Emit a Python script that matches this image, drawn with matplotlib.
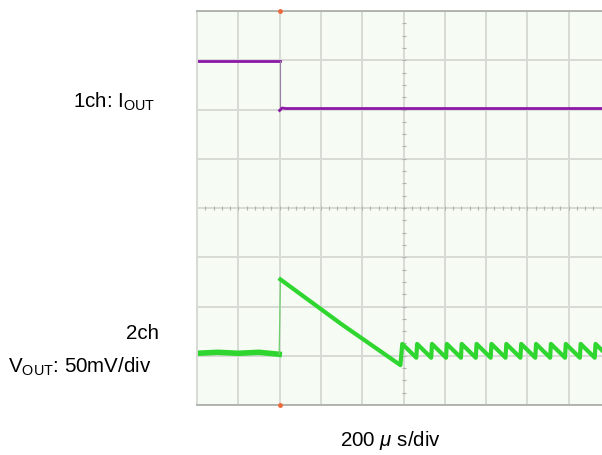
import numpy as np
import matplotlib
matplotlib.use("Agg")
import matplotlib.pyplot as plt

plt.rcParams['font.family'] = ['Liberation Sans', 'DejaVu Sans']
plt.rcParams['mathtext.fontset'] = 'custom'
plt.rcParams['mathtext.rm'] = 'Liberation Sans'
plt.rcParams['mathtext.it'] = 'Liberation Sans:italic'

# time in us, level in divisions
# 1ch: I_OUT
iout_pre_t = [0, 400]
iout_pre_v = [2.98, 2.98]
iout_post_t = [400, 412, 430, 2000]
iout_post_v = [1.98, 2.03, 2.02, 2.02]

# 2ch: V_OUT before the load step
vout_pre_t = [0, 100, 200, 300, 398]
vout_pre_v = [-2.95, -2.93, -2.95, -2.93, -2.97]

# 2ch: V_OUT after the step (ramp down then ripple)
vout_t = [404, 700, 985, 994,
          1062, 1066, 1134, 1138, 1206, 1210, 1278, 1282, 1350, 1354,
          1422, 1426, 1494, 1498, 1566, 1570, 1638, 1642, 1710, 1714,
          1782, 1786, 1854, 1858, 1926, 1930, 1998, 2002]
vout_v = [-1.45, -2.36, -3.19, -2.76,
          -3.04, -2.76, -3.04, -2.76, -3.04, -2.76, -3.04, -2.76, -3.04, -2.76,
          -3.04, -2.76, -3.04, -2.76, -3.04, -2.76, -3.04, -2.76, -3.04, -2.76,
          -3.04, -2.76, -3.04, -2.76, -3.04, -2.76, -3.04, -2.76]

trig_t = 400
x_ticks = list(range(0, 2001, 200))
y_ticks = list(range(-4, 5))

fig = plt.figure(figsize=(6.02, 4.56), dpi=100)
ax = fig.add_axes([197 / 602, 50 / 456, 413 / 602, 394 / 456])
ax.set_facecolor('#f6fbf3')
ax.set_xlim(0, 2000)
ax.set_ylim(-4, 4)
ax.set_xticks(x_ticks)
ax.set_yticks(y_ticks)
ax.grid(True, color='#d8dbd5', lw=1.4)
ax.tick_params(length=0, labelbottom=False, labelleft=False)
for s in ['top', 'bottom']:
    ax.spines[s].set_color('#a8aaa6')
    ax.spines[s].set_linewidth(1.2)
ax.spines['left'].set_color('#d8dbd5')
ax.spines['left'].set_linewidth(1.4)
ax.spines['right'].set_visible(False)

# centre line minor marks
ax.plot(np.arange(40, 2000, 40), np.zeros(49), ls='none', marker='|',
        ms=3.5, color='#b0b2ae', mew=0.8)
ax.plot(np.full(31, 1000), np.arange(-3.75, 4, 0.25), ls='none', marker='_',
        ms=3.5, color='#b0b2ae', mew=0.8)

# traces
purple = '#8c17a8'
green = '#2fd62f'
ax.plot(iout_pre_t, iout_pre_v, color=purple, lw=2.0)
ax.plot([trig_t, trig_t], [iout_pre_v[-1], iout_post_v[0]], color='#9a80a4', lw=0.8)
ax.plot(iout_post_t, iout_post_v, color=purple, lw=2.0)

ax.plot(vout_pre_t, vout_pre_v, color=green, lw=4.0)
ax.plot([vout_pre_t[-1], vout_t[0]], [vout_pre_v[-1], vout_v[0]],
        color='#6fcf6f', lw=0.9)
ax.plot(vout_t, vout_v, color=green, lw=3.0)

# trigger dots
ax.plot([trig_t, trig_t], [4, -4], ls='none', marker='o', ms=2.5,
        color='#ee6a3a', clip_on=False, zorder=5)

fs = 14.8
fig.text(73 / 602, 1 - 102 / 456, '1ch: I$_{\\mathrm{OUT}}$', fontsize=fs,
         va='center', ha='left')
fig.text(159 / 602, 1 - 334 / 456, '2ch', fontsize=fs, va='center', ha='right')
fig.text(8 / 602, 1 - 367 / 456, 'V$_{\\mathrm{OUT}}$: 50mV/div', fontsize=fs,
         va='center', ha='left')
fig.text(390 / 602, 1 - 441 / 456, '200 $\\mu$ s/div', fontsize=fs,
         va='center', ha='center')

fig.savefig('out.png', dpi=100)
